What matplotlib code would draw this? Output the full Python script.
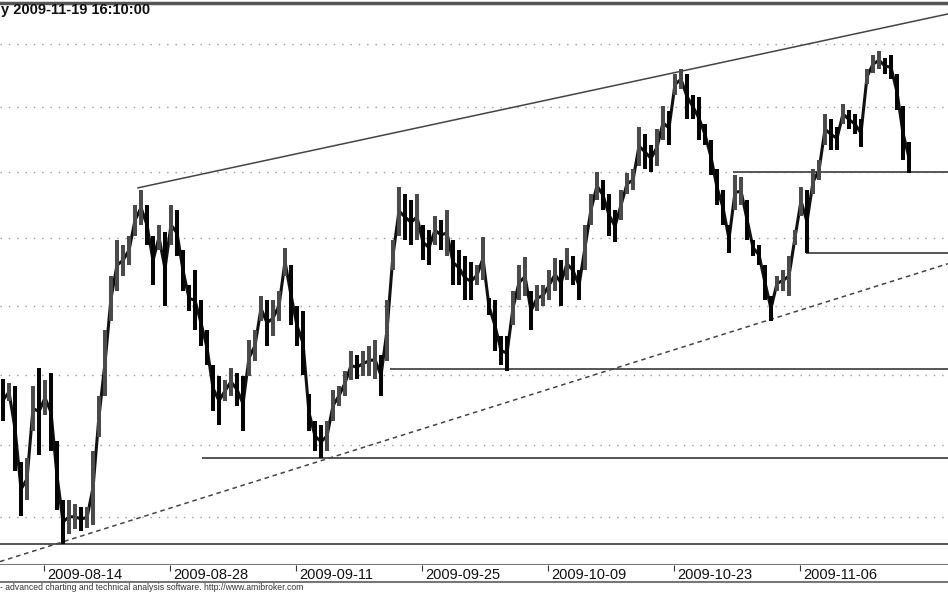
import numpy as np
import matplotlib.pyplot as plt
from matplotlib.ticker import NullLocator, FixedLocator
import matplotlib.transforms as mtransforms

# half-day price ranges, index 0 = first bar on the left
highs = [2247, 2244, 2242, 2188, 2191, 2242, 2255, 2246, 2251, 2203,
         2162, 2162, 2159, 2157, 2157, 2196, 2235, 2282, 2322, 2349,
         2345, 2352, 2375, 2386, 2375, 2352, 2360, 2355, 2375, 2371,
         2341, 2315, 2326, 2304, 2282, 2257, 2249, 2246, 2255, 2251,
         2249, 2275, 2282, 2307, 2304, 2304, 2311, 2343, 2330, 2300,
         2296, 2236, 2217, 2214, 2217, 2239, 2242, 2253, 2267, 2264,
         2267, 2271, 2275, 2264, 2304, 2349, 2389, 2383, 2379, 2383,
         2360, 2356, 2367, 2364, 2371, 2349, 2341, 2337, 2332, 2330,
         2351, 2306, 2304, 2278, 2278, 2311, 2330, 2336, 2311, 2315,
         2315, 2326, 2335, 2334, 2343, 2337, 2326, 2360, 2383, 2400,
         2394, 2383, 2371, 2386, 2399, 2402, 2435, 2429, 2421, 2433,
         2451, 2447, 2476, 2480, 2476, 2460, 2458, 2437, 2425, 2402,
         2386, 2360, 2398, 2396, 2379, 2349, 2345, 2330, 2307, 2322,
         2326, 2337, 2356, 2389, 2386, 2402, 2409, 2445, 2441, 2435,
         2453, 2448, 2445, 2441, 2480, 2491, 2494, 2489, 2491, 2476,
         2451, 2423]
lows = [2217, 2231, 2182, 2151, 2162, 2210, 2193, 2221, 2196, 2155,
        2132, 2139, 2142, 2141, 2143, 2145, 2206, 2235, 2289, 2311,
        2322, 2330, 2352, 2360, 2345, 2315, 2341, 2300, 2345, 2337,
        2311, 2296, 2282, 2271, 2257, 2224, 2214, 2231, 2235, 2228,
        2210, 2249, 2260, 2289, 2271, 2278, 2289, 2322, 2286, 2271,
        2250, 2210, 2196, 2191, 2196, 2217, 2228, 2235, 2246, 2247,
        2249, 2249, 2247, 2235, 2260, 2326, 2352, 2349, 2345, 2349,
        2334, 2330, 2345, 2341, 2337, 2315, 2315, 2304, 2304, 2315,
        2319, 2293, 2267, 2257, 2253, 2286, 2304, 2307, 2282, 2296,
        2300, 2304, 2311, 2300, 2319, 2315, 2304, 2326, 2360, 2379,
        2371, 2352, 2347, 2364, 2383, 2386, 2405, 2402, 2400, 2405,
        2425, 2421, 2460, 2464, 2441, 2441, 2425, 2421, 2398, 2375,
        2360, 2339, 2371, 2375, 2349, 2337, 2330, 2304, 2289, 2311,
        2311, 2307, 2345, 2367, 2339, 2383, 2394, 2421, 2417, 2417,
        2437, 2433, 2429, 2419, 2468, 2477, 2480, 2476, 2472, 2448,
        2409, 2399]

date_labels = ['2009-08-14', '2009-08-28', '2009-09-11', '2009-09-25',
               '2009-10-09', '2009-10-23', '2009-11-06']
bars_per_day = 2.1
first_label_bar = 6.8

# support / resistance levels: (price, bar where the line starts)
levels = [(2400, 121.7), (2339, 133.8), (2254, 64.5), (2191, 33.2), (2132, -0.5)]
# trend lines: (bar, price) end points
upper_trend = [(22.5, 2388), (157.5, 2524)]
lower_trend = [(-0.5, 2120), (157.5, 2331)]

grid_prices = [2150, 2200, 2250, 2300, 2350, 2400, 2450, 2500]

plt.rcParams['font.family'] = ['Liberation Sans', 'DejaVu Sans']

fig = plt.figure(figsize=(9.48, 5.93), dpi=100)
ax = fig.add_axes([0, 28 / 593, 1, 562 / 593])
ax.set_yscale('log')
ax.set_ylim(2117.7, 2532.8)
ax.set_xlim(-0.5, 157.5)

ax.yaxis.set_major_locator(FixedLocator(grid_prices))
ax.yaxis.set_minor_locator(NullLocator())
ax.xaxis.set_major_locator(NullLocator())
ax.tick_params(left=False, labelleft=False, bottom=False, labelbottom=False)
ax.yaxis.grid(True, color='#9a9a9a', linestyle=(0, (1, 5)), linewidth=1)
ax.set_axisbelow(True)

for s in ['left', 'right']:
    ax.spines[s].set_visible(False)
ax.spines['top'].set_color('#555555')
ax.spines['top'].set_linewidth(2.5)
ax.spines['bottom'].set_color('#777777')
ax.spines['bottom'].set_linewidth(1.5)

hi = np.array(highs, dtype=float)
lo = np.array(lows, dtype=float)
idx = np.arange(len(hi))
mid = np.sqrt(hi * lo)
up = np.r_[False, mid[1:] > mid[:-1]]
cols = np.where(up, '#4a4a4a', '#050505')

ax.plot(idx, mid, color='#111111', lw=2.2, zorder=3)
ax.vlines(idx, lo, hi, colors=cols, lw=2.9, zorder=4)

for price, start in levels:
    ax.hlines(price, start, 157.5, color='#555555', lw=1.4, zorder=2)

ax.plot(*zip(*upper_trend), color='#444444', lw=1.1, zorder=2)
ax.plot(*zip(*lower_trend), color='#444444', lw=1.1, linestyle=(0, (3, 2.5)), zorder=2)

# date band under the chart
ax2 = fig.add_axes([0, 11 / 593, 1, 17 / 593])
ax2.set_xlim(-0.5, 157.5)
ax2.set_ylim(0, 1)
for s in ['left', 'right', 'top']:
    ax2.spines[s].set_visible(False)
ax2.spines['bottom'].set_color('#777777')
ax2.spines['bottom'].set_linewidth(1.5)
ax2.yaxis.set_major_locator(NullLocator())

start = np.datetime64(date_labels[0])
tick_pos = [first_label_bar + bars_per_day * np.busday_count(start, np.datetime64(d))
            for d in date_labels]
ax2.set_xticks(tick_pos)
ax2.tick_params(axis='x', bottom=False, top=True, direction='in', length=4,
                width=0.8, color='#333333', labelbottom=False)
offset = mtransforms.ScaledTranslation(3 / 100, 0, fig.dpi_scale_trans)
for p, lab in zip(tick_pos, date_labels):
    ax2.text(p, 0.42, lab, ha='left', va='center', fontsize=10.5, color='#111111',
             transform=ax2.transData + offset)

fig.text(0.001, 1 - 3 / 593, 'y 2009-11-19 16:10:00', ha='left', va='top',
         fontsize=10.5, fontweight='bold', color='#111111')
fig.text(0.0, 1 - 588 / 593, '- advanced charting and technical analysis software. http://www.amibroker.com',
         ha='left', va='center', fontsize=6.2, color='#333333')

fig.savefig('out.png', dpi=100)
